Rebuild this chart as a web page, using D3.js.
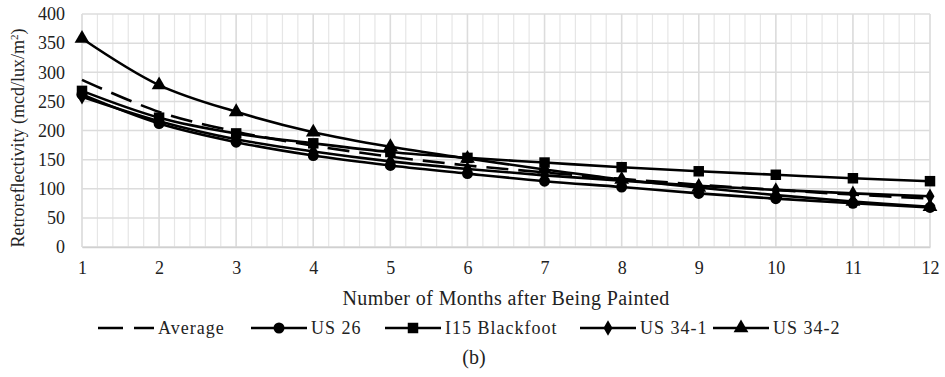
<!DOCTYPE html>
<html>
<head>
<meta charset="utf-8">
<script src="https://cdn.jsdelivr.net/npm/d3@7"></script>
<style>
  html, body { margin: 0; padding: 0; background: #fff; }
  svg text { font-family: "Times New Roman", "Liberation Serif", Times, "DejaVu Serif", serif; }
</style>
</head>
<body>
<div id="chart"></div>
<script>
// data
var months = [1, 2, 3, 4, 5, 6, 7, 8, 9, 10, 11, 12];
var average   = [287, 232, 198, 174, 155, 140, 128, 117, 107, 98, 90, 83];
var us26      = [262, 212, 180, 157, 140, 126, 113, 103, 92, 83, 75, 68];
var i15       = [268, 222, 195, 178, 163, 153, 145, 137, 130, 124, 118, 113];
var us341     = [258, 216, 185, 164, 147, 134, 123, 114, 105, 98, 92, 87];
var us342     = [358, 278, 232, 197, 172, 152, 133, 116, 102, 89, 78, 69];
var yTicks    = [0, 50, 100, 150, 200, 250, 300, 350, 400];
var seriesNames = ['Average', 'US 26', 'I15 Blackfoot', 'US 34-1', 'US 34-2'];

var W = 945, H = 377;
var margin = {top: 14, left: 82, right: 15, bottom: 130};
var plotW = W - margin.left - margin.right;
var plotH = H - margin.top - margin.bottom;

var svg = d3.select('#chart').append('svg')
    .attr('width', W)
    .attr('height', H);

var x = d3.scaleLinear().domain([1, 12]).range([margin.left, margin.left + plotW]);
var y = d3.scaleLinear().domain([0, 400]).range([margin.top + plotH, margin.top]);

//grid - minor verticals every 0.2 month
var minor = d3.range(1, 12.001, 0.2);
svg.append('g').selectAll('line')
    .data(minor)
    .enter()
    .append('line')
    .attr('x1', function (d) { return x(d); })
    .attr('x2', function (d) { return x(d); })
    .attr('y1', y(0))
    .attr('y2', y(400))
    .attr('stroke', '#e6e6e6')
    .attr('stroke-width', 1.2);
svg.append('g').selectAll('line')
    .data(yTicks)
    .enter()
    .append('line')
    .attr('x1', x(1))
    .attr('x2', x(12))
    .attr('y1', function (d) { return y(d); })
    .attr('y2', function (d) { return y(d); })
    .attr('stroke', '#dcdcdc')
    .attr('stroke-width', 1.5);
svg.append('g').selectAll('line')
    .data(months)
    .enter()
    .append('line')
    .attr('x1', function (d) { return x(d); })
    .attr('x2', function (d) { return x(d); })
    .attr('y1', y(0))
    .attr('y2', y(400))
    .attr('stroke', '#dcdcdc')
    .attr('stroke-width', 1.5);

//axes
var xAxis = d3.axisBottom(x).tickValues(months).tickSize(0).tickPadding(14);
var yAxis = d3.axisLeft(y).tickValues(yTicks).tickSize(0).tickPadding(17);
var gx = svg.append('g').attr('transform', 'translate(0,' + y(0) + ')').call(xAxis);
var gy = svg.append('g').attr('transform', 'translate(' + x(1) + ',0)').call(yAxis);
gx.select('.domain').attr('stroke', '#d0d0d0').attr('stroke-width', 1.5);
gy.select('.domain').remove();
gx.attr('font-family', null);
gy.attr('font-family', null);
svg.selectAll('.tick text')
    .attr('font-size', '18px')
    .attr('fill', '#222');

svg.append('text')
    .attr('x', (x(1) + x(12)) / 2)
    .attr('y', 305)
    .attr('text-anchor', 'middle')
    .style('font-size', '20px')
    .style('letter-spacing', '0.4px')
    .attr('fill', '#222')
    .text('Number of Months after Being Painted');

var ylab = svg.append('text')
    .attr('transform', 'translate(24,' + 138 + ') rotate(-90)')
    .attr('text-anchor', 'middle')
    .style('font-size', '18px')
    .attr('fill', '#222');
ylab.append('tspan').text('Retroreflectivity (mcd/lux/m');
ylab.append('tspan').attr('dy', -6).style('font-size', '11px').text('2');
ylab.append('tspan').attr('dy', 6).text(')');

//markers
var symbols = [null, d3.symbolCircle, d3.symbolSquare, d3.symbolDiamond, d3.symbolTriangle];
var symSize = [0, 95, 110, 70, 95];
var allSeries = [average, us26, i15, us341, us342];

var line = d3.line()
    .x(function (d, i) { return x(months[i]); })
    .y(function (d) { return y(d); })
    .curve(d3.curveCatmullRom.alpha(0.5));

allSeries.forEach(function (vals, k) {
    svg.append('path')
        .attr('d', line(vals))
        .attr('fill', 'none')
        .attr('stroke', '#000')
        .attr('stroke-width', 2.6)
        .attr('stroke-dasharray', k === 0 ? '22,10' : null);
    if (symbols[k]) {
        svg.append('g').selectAll('path')
            .data(vals)
            .enter()
            .append('path')
            .attr('transform', function (d, i) { return 'translate(' + x(months[i]) + ',' + y(d) + ')'; })
            .attr('d', d3.symbol().type(symbols[k]).size(symSize[k]))
            .attr('fill', '#000');
    }
});

//legend
var legX = [98, 251, 385, 580, 713];
var legY = 328;
var lg = svg.append('g');
seriesNames.forEach(function (name, k) {
    var x0 = legX[k];
    var g = lg.append('g');
    g.append('line')
        .attr('x1', x0).attr('x2', x0 + 56)
        .attr('y1', legY).attr('y2', legY)
        .attr('stroke', '#000')
        .attr('stroke-width', 2.6)
        .attr('stroke-dasharray', k === 0 ? '25,11' : null);
    if (symbols[k]) {
        g.append('path')
            .attr('transform', 'translate(' + (x0 + 28) + ',' + legY + ')')
            .attr('d', d3.symbol().type(symbols[k]).size(symSize[k]))
            .attr('fill', '#000');
    }
    g.append('text')
        .attr('x', x0 + 60)
        .attr('y', legY)
        .attr('dy', '0.35em')
        .style('font-size', '18px')
        .style('letter-spacing', '1px')
        .attr('fill', '#222')
        .text(name);
});

svg.append('text')
    .attr('x', 474)
    .attr('y', 364)
    .attr('text-anchor', 'middle')
    .style('font-size', '20px')
    .attr('fill', '#222')
    .text('(b)');
</script>
</body>
</html>
